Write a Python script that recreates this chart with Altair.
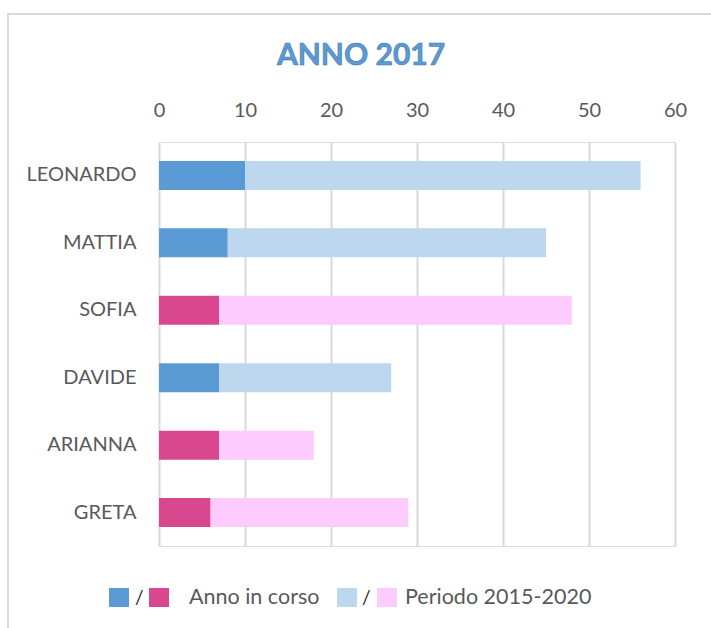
import altair as alt
import pandas as pd

# ---- data ----
nomi = ["LEONARDO", "MATTIA", "SOFIA", "DAVIDE", "ARIANNA", "GRETA"]
sesso = ["M", "M", "F", "M", "F", "F"]
anno_in_corso = [10, 8, 7, 7, 7, 6]
periodo_fine = [56, 45, 48, 27, 18, 29]   # end of the light segment (Periodo 2015-2020)
tick_values = [0, 10, 20, 30, 40, 50, 60]
legend_labels = ["Anno in corso", "Periodo 2015-2020"]
titolo = "ANNO 2017"

FONT = "Lato"
GREY = "#595959"
LEFT, TOP = 159, 142
W, H = 516, 404

rows = []
for n, s, a, p in zip(nomi, sesso, anno_in_corso, periodo_fine):
    rows.append({"nome": n, "serie": "Anno in corso " + s, "start": 0, "end": a})
    rows.append({"nome": n, "serie": "Periodo 2015-2020 " + s, "start": a, "end": p})
df = pd.DataFrame(rows)

color_scale = alt.Scale(
    domain=["Anno in corso M", "Anno in corso F", "Periodo 2015-2020 M", "Periodo 2015-2020 F"],
    range=["#5B9BD5", "#D9488E", "#BDD7EE", "#FDCBFD"],
)

bars = alt.Chart(df).mark_bar(size=29).encode(
    y=alt.Y("nome:N", sort=nomi, title=None,
            scale=alt.Scale(paddingInner=0.57, paddingOuter=0.28),
            axis=alt.Axis(labelFont=FONT, labelFontSize=20, labelColor=GREY,
                          labelPadding=23, ticks=False, domain=False, grid=False)),
    x=alt.X("start:Q", title=None,
            scale=alt.Scale(domain=[0, 60], nice=False),
            axis=alt.Axis(orient="top", values=tick_values, labelFont=FONT,
                          labelFontSize=20, labelColor=GREY, labelPadding=22,
                          labelFlush=False, ticks=False, domain=False, grid=True,
                          gridColor="#D9D9D9", gridWidth=2)),
    x2="end:Q",
    color=alt.Color("serie:N", scale=color_scale, legend=None),
)

one = pd.DataFrame({"k": [0]})

frame = alt.Chart(one).mark_rect(fill=None, stroke="#D9D9D9", strokeWidth=2).encode(
    x=alt.value(8 - LEFT), x2=alt.value(720 - LEFT),
    y=alt.value(14 - TOP), y2=alt.value(640 - TOP),
)

title = alt.Chart(one).mark_text(
    text=titolo, align="center", baseline="middle", font=FONT, fontSize=30,
    fontWeight="bold", color="#5B9BD5", stroke="#3F78B0", strokeWidth=0.6,
).encode(x=alt.value(361 - LEFT), y=alt.value(56 - TOP))

def sq(x0, c):
    return alt.Chart(one).mark_rect(color=c).encode(
        x=alt.value(x0 - LEFT), x2=alt.value(x0 + 20 - LEFT),
        y=alt.value(588 - TOP), y2=alt.value(607 - TOP),
    )

def txt(x0, t, size=21.5, col=GREY):
    return alt.Chart(one).mark_text(
        text=t, align="left", baseline="middle", font=FONT, fontSize=size, color=col
    ).encode(x=alt.value(x0 - LEFT), y=alt.value(598 - TOP))

legend = [
    sq(109, "#5B9BD5"), txt(135, "/", 19, "#262626"), sq(149, "#D9488E"), txt(189, legend_labels[0]),
    sq(337, "#BDD7EE"), txt(362, "/", 19, "#262626"), sq(377, "#FDCBFD"), txt(405, legend_labels[1]),
]

chart = alt.layer(frame, bars, title, *legend).properties(
    width=W, height=H,
    autosize=alt.AutoSizeParams(type="none"),
    padding={"left": LEFT, "top": TOP, "right": 711 - LEFT - W, "bottom": 628 - TOP - H},
).configure_view(stroke=None).configure(background="white")

chart.save("out.html", embed_options={"renderer": "svg", "actions": False})
